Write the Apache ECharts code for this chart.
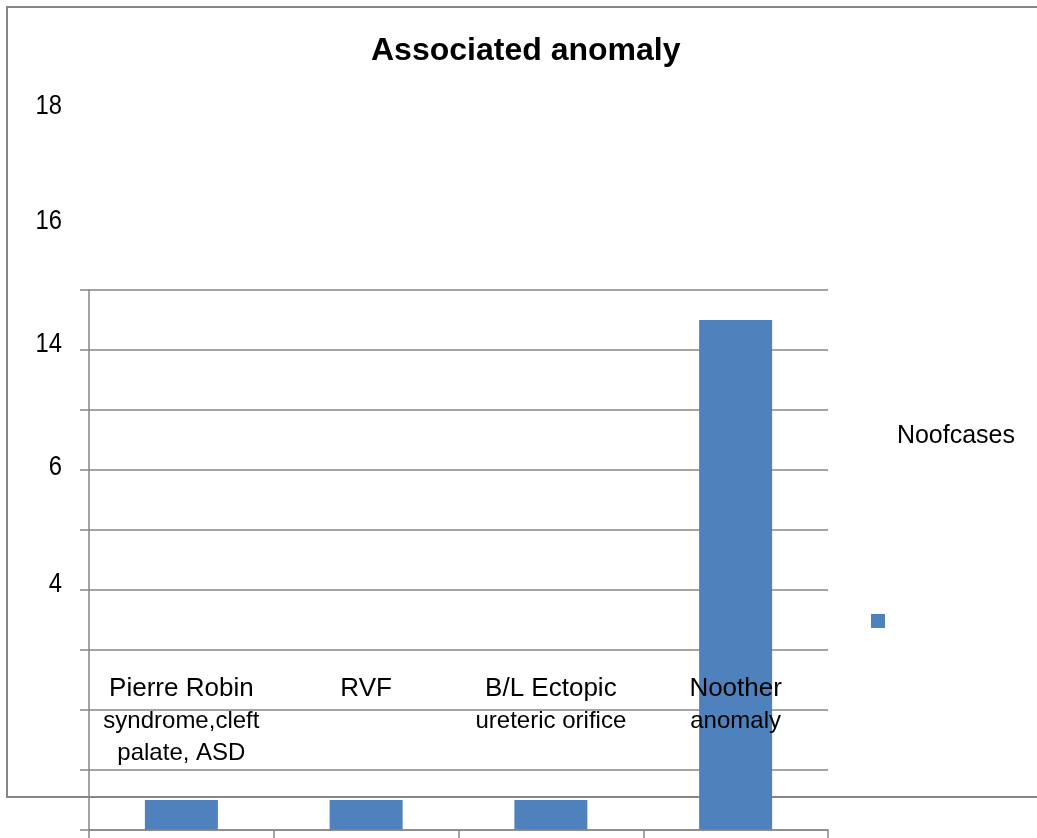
<!DOCTYPE html>
<html>
<head>
<meta charset="utf-8">
<script src="https://cdn.jsdelivr.net/npm/echarts@6/dist/echarts.min.js"></script>
<style>html,body{margin:0;padding:0;background:#fff}#c{width:1037px;height:838px}</style>
</head>
<body>
<div id="c"></div>
<script>
var titleText = 'Associated anomaly';
var seriesName = 'Noofcases';
var categoryLines = [
  ['Pierre Robin', 'syndrome,cleft', 'palate, ASD'],
  ['RVF'],
  ['B/L Ectopic', 'ureteric orifice'],
  ['Noother', 'anomaly']
];
var categories = categoryLines.map(function (l) { return l.join('\n'); });
var values = [1, 1, 1, 17];
var strayTickLabels = ['18', '16', '14', '6', '4'];
var strayTickY = [107, 222, 345, 468, 585];

var FONT = '"Liberation Sans", Arial, sans-serif';
var GRAY = '#868686';

var chart = echarts.init(document.getElementById('c'), null, {renderer: 'canvas'});

var graphics = [{
  type: 'rect', silent: true, z: 0,
  shape: {x: 7, y: 7, width: 1100, height: 790},
  style: {fill: 'none', stroke: GRAY, lineWidth: 2}
}, {
  type: 'text', silent: true,
  x: 1015, y: 436,
  style: {text: seriesName, font: '25px ' + FONT, fill: '#000', textAlign: 'right', textVerticalAlign: 'middle'}
}];
strayTickLabels.forEach(function (t, i) {
  graphics.push({
    type: 'text', silent: true,
    x: 62, y: strayTickY[i], scaleX: 0.88,
    style: {text: t, font: '27px ' + FONT, fill: '#000', textAlign: 'right', textVerticalAlign: 'middle'}
  });
});

chart.setOption({
  animation: false,
  backgroundColor: '#fff',
  title: {
    text: titleText, left: 371, top: 35, padding: 0,
    textStyle: {fontFamily: FONT, fontSize: 32, fontWeight: 'bold', color: '#000'}
  },
  legend: {
    data: [seriesName], left: 871, top: 614, padding: 0,
    icon: 'rect', itemWidth: 14, itemHeight: 14,
    formatter: function () { return ''; }
  },
  grid: {left: 89, right: 209, top: 290, bottom: 8, containLabel: false},
  xAxis: {
    type: 'category', data: categories,
    axisLine: {lineStyle: {color: GRAY, width: 1.5}},
    axisTick: {show: true, length: 8, lineStyle: {color: GRAY, width: 1.5}},
    axisLabel: {
      inside: true, margin: 157, verticalAlign: 'top', interval: 0,
      formatter: function (v) {
        var parts = v.split('\n');
        return parts.map(function (p, i) { return i === 0 ? '{a|' + p + '}' : '{b|' + p + '}'; }).join('\n');
      },
      rich: {
        a: {fontFamily: FONT, fontSize: 26, color: '#000', lineHeight: 32},
        b: {fontFamily: FONT, fontSize: 24, color: '#000', lineHeight: 32}
      }
    },
    z: 5
  },
  yAxis: {
    type: 'value', min: 0, max: 18, interval: 2,
    axisLine: {show: true, lineStyle: {color: GRAY, width: 1.5}},
    axisTick: {show: true, length: 9, lineStyle: {color: GRAY, width: 1.5}},
    axisLabel: {show: false},
    splitLine: {show: true, lineStyle: {color: GRAY, width: 1.5}}
  },
  series: [{
    name: seriesName, type: 'bar', data: values, barWidth: 73,
    itemStyle: {color: '#4F81BD'}, z: 1
  }],
  graphic: graphics
});
</script>
</body>
</html>
